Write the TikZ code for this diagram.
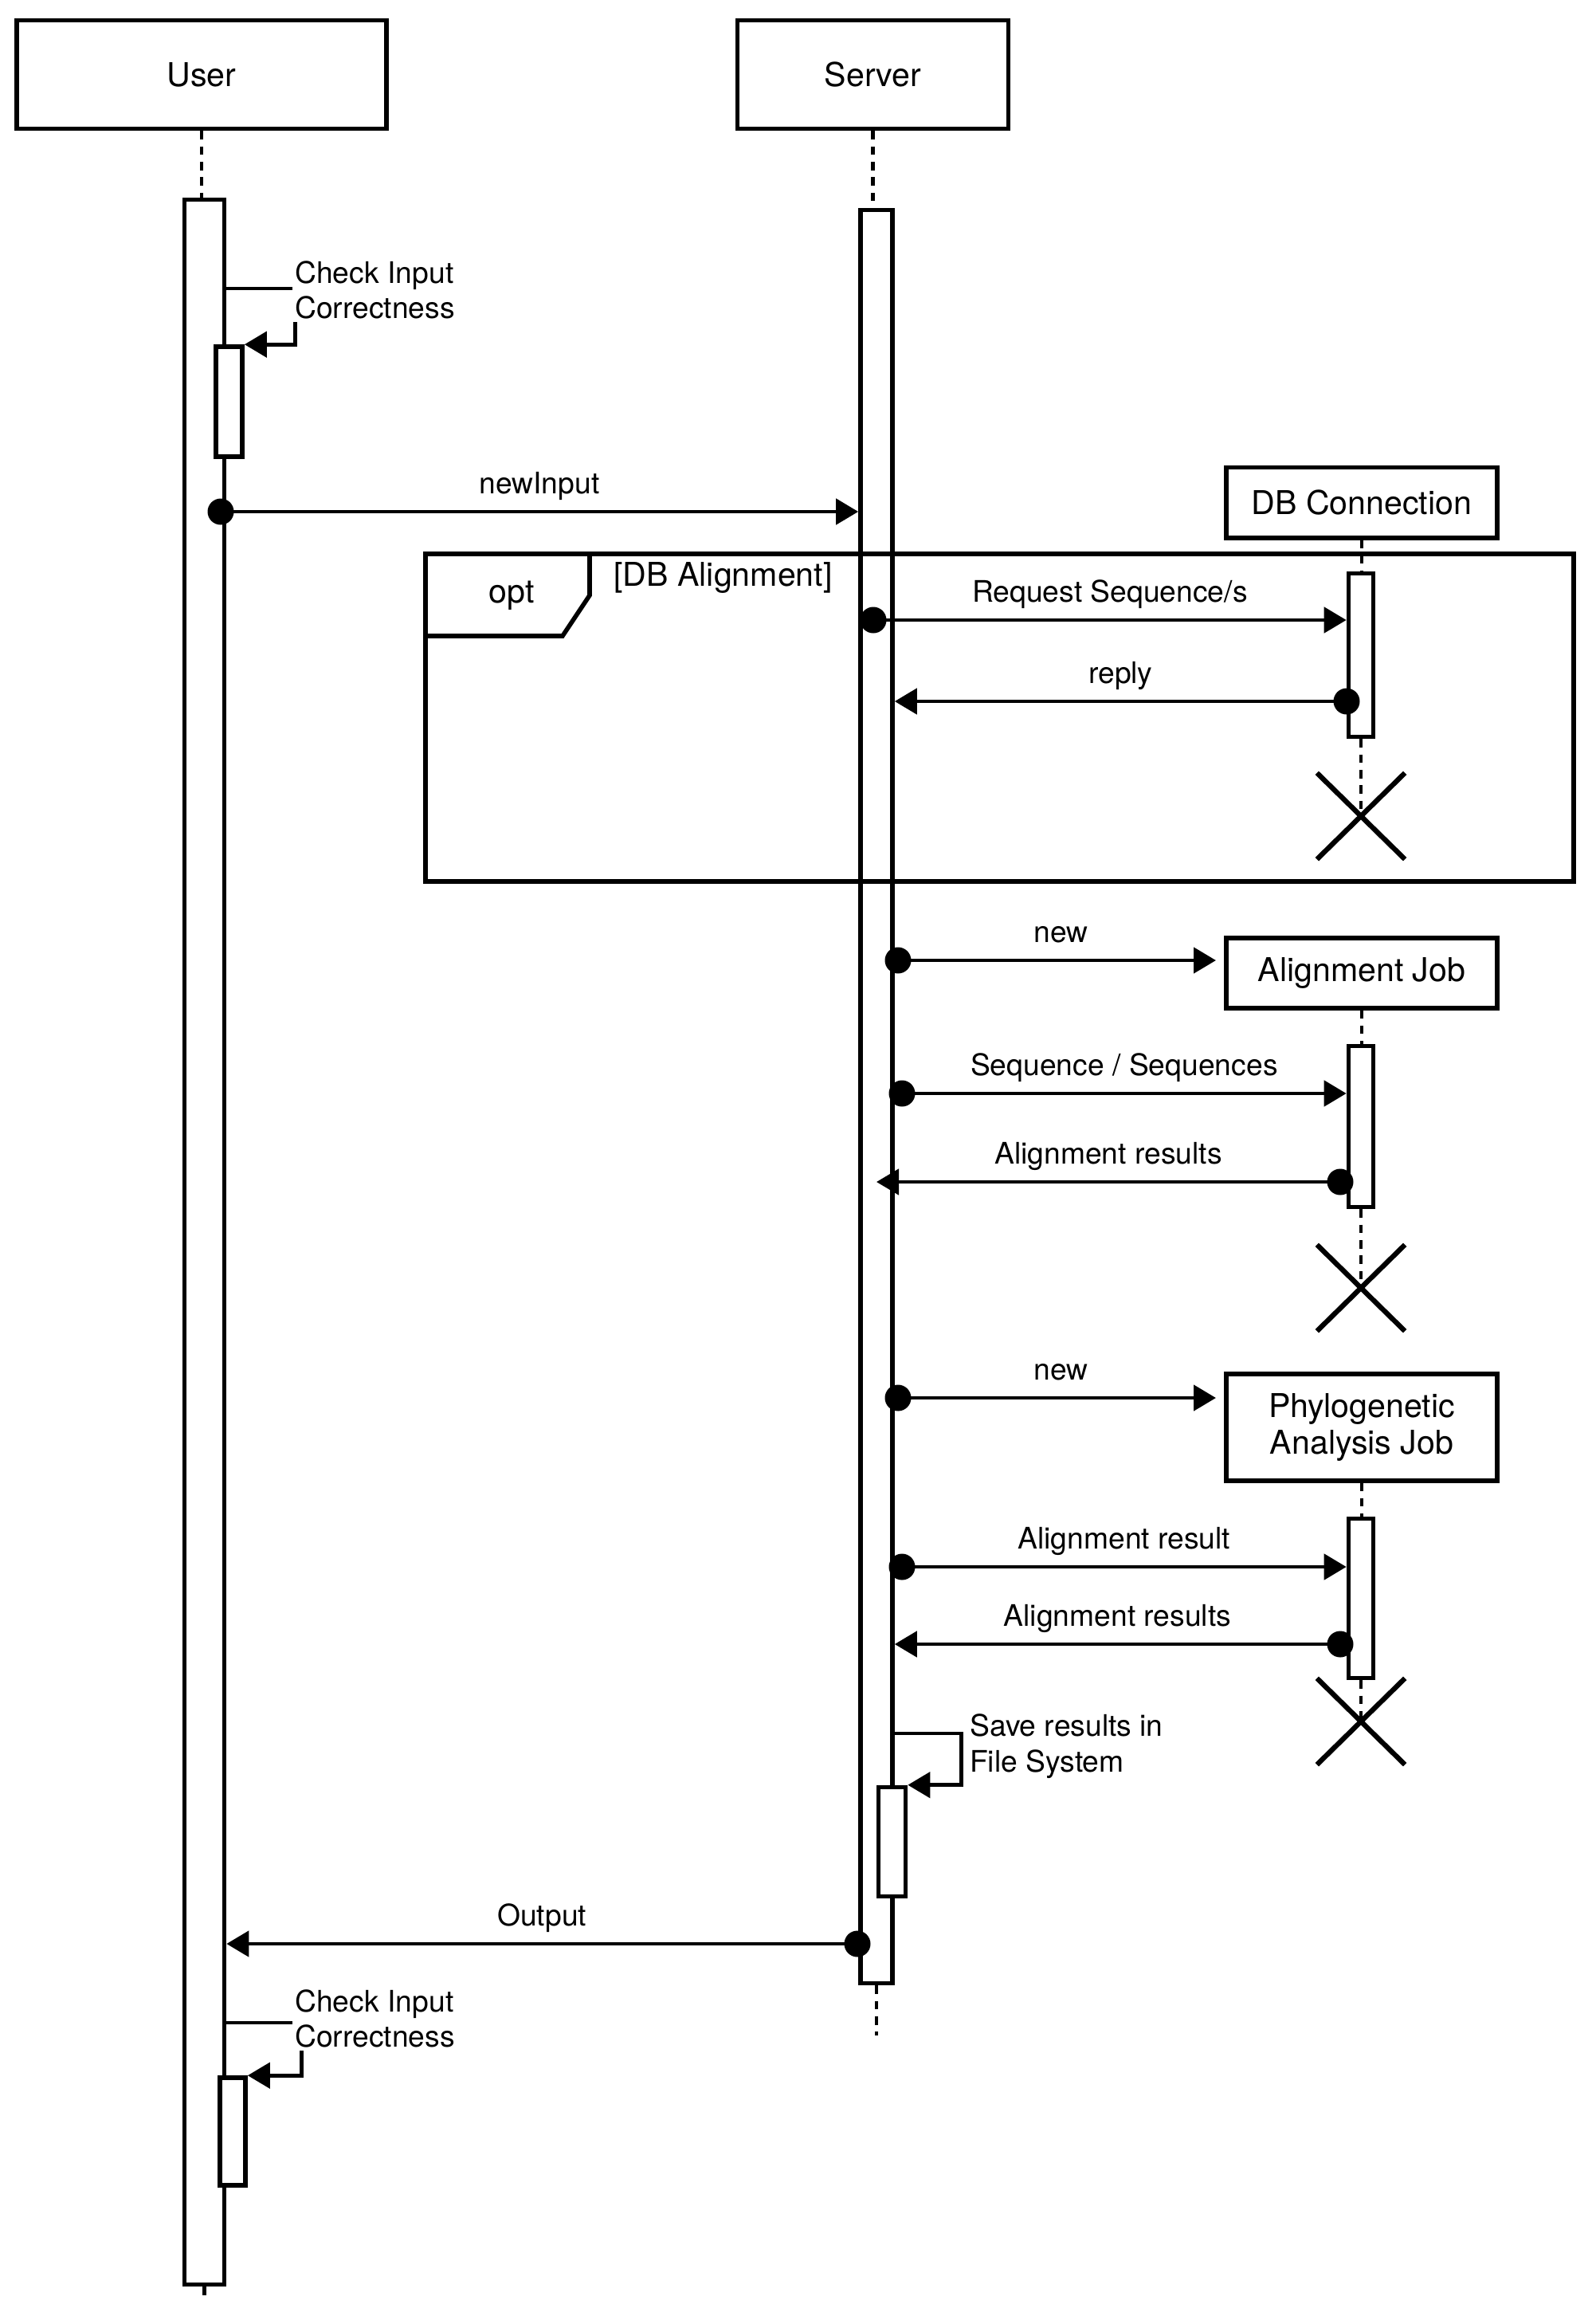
\documentclass[tikz,border=0pt]{standalone}
\usepackage{fontspec}
\setmainfont{TeX Gyre Heros}
\usetikzlibrary{arrows.meta,positioning,shapes.misc}
\newcommand{\bigtxt}{\fontsize{11.7pt}{13.1pt}\selectfont}
\newcommand{\smalltxt}{\fontsize{10.6pt}{12.6pt}\selectfont}

\begin{document}
\begin{tikzpicture}[
    obj/.style={draw, line width=1.7pt, inner sep=0pt, minimum width=3.4cm, font=\bigtxt, align=center},
    act/.style={draw, fill=white, line width=1.6pt, inner sep=0pt, minimum width=0.32cm},
    life/.style={line width=1.4pt, dash pattern=on 3pt off 2.5pt},
    msg/.style={line width=1.35pt, -{Triangle[length=2.8mm,width=3.2mm]}},
    dot/.style={circle, fill, inner sep=0pt, minimum size=3.3mm},
    lbl/.style={font=\smalltxt, inner sep=0pt, text height=0.75em, text depth=0.2em, above=1.3mm},
    note/.style={font=\smalltxt, fill=white, inner sep=1pt, align=left, anchor=west},
    destroy/.style={cross out, draw, line width=1.8pt, inner sep=0pt, minimum width=1.04cm, minimum height=1.02cm},
    frame/.style={line width=1.6pt}
  ]
  \useasboundingbox (0,0) rectangle (20.02,-29.06);

  \node[obj, minimum width=4.64cm, minimum height=1.36cm] (user) at (2.53,-0.935) {User};
  \node[obj, minimum height=1.36cm] (server) at (10.955,-0.935) {Server};
  \node[act, minimum width=0.5cm, minimum height=26.16cm] (ubar) at (2.565,-15.585) {};
  \node[act, minimum width=0.4cm, minimum height=22.25cm] (sbar) at (11.0,-13.76) {};
  \draw[life] (user.south) -- (user.south |- ubar.north);
  \draw[life] (server.south) -- (server.south |- sbar.north);
  \draw[life] (ubar.south) -- ++(0,-0.17);
  \draw[life] (sbar.south) -- ++(0,-0.63);

  \node[act, minimum width=0.33cm, minimum height=1.38cm] (uchk1) at (2.875,-5.04) {};
  \draw[msg] (ubar.east |- 0,-3.62) -- ++(0.86,0) |- (uchk1.north east);
  \node[note] (tchk1) at (3.66,-3.64) {Check Input\\Correctness};

  \node[dot] (d1) at (2.77,-6.42) {};
  \draw[msg] (d1.center) -- node[lbl] (m1) {newInput} (d1 -| sbar.west);

  \node[obj, minimum height=0.88cm] (dbc) at (17.09,-6.305) {DB Connection};
  \node[act, minimum width=0.31cm, minimum height=2.05cm] (dbbar) at (17.08,-8.22) {};
  \node[destroy] (xdb) at (17.08,-10.24) {};
  \draw[life] (dbc.south) -- (dbc.south |- dbbar.north);
  \draw[life] (dbbar.south) -- (xdb.center);

  \draw[frame] (5.34,-6.95) rectangle (19.75,-11.06);
  \draw[frame] (5.34,-7.98) -- (7.06,-7.98) -- (7.40,-7.47) -- (7.40,-6.95);
  \node[font=\bigtxt] (opt) at (6.42,-7.47) {opt};
  \node[font=\bigtxt, anchor=west] (guard) at (7.58,-7.25) {[DB Alignment]};

  \node[dot] (d2) at (10.96,-7.78) {};
  \draw[msg] (d2.center) -- node[lbl] (m2) {Request Sequence/s} (d2 -| dbbar.west);
  \node[dot] (d3) at (16.90,-8.80) {};
  \draw[msg] (d3.center) -- node[lbl] (m3) {reply} (d3 -| sbar.east);

  \node[obj, minimum height=0.88cm] (ajob) at (17.09,-12.205) {Alignment Job};
  \node[act, minimum width=0.31cm, minimum height=2.02cm] (ajbar) at (17.08,-14.135) {};
  \node[destroy] (xaj) at (17.08,-16.16) {};
  \draw[life] (ajob.south) -- (ajob.south |- ajbar.north);
  \draw[life] (ajbar.south) -- (xaj.center);

  \node[dot] (d4) at (11.27,-12.05) {};
  \draw[msg, shorten >=1mm] (d4.center) -- node[lbl] (m4) {new} (d4 -| ajob.west);
  \node[dot] (d5) at (11.32,-13.72) {};
  \draw[msg] (d5.center) -- node[lbl] (m5) {Sequence / Sequences} (d5 -| ajbar.west);
  \node[dot] (d6) at (16.82,-14.83) {};
  \draw[msg] (d6.center) -- node[lbl] (m6) {Alignment results} (d6 -| sbar);

  \node[obj, minimum height=1.34cm] (pjob) at (17.09,-17.905) {Phylogenetic\\Analysis Job};
  \node[act, minimum width=0.31cm, minimum height=2.0cm] (pjbar) at (17.08,-20.055) {};
  \node[destroy] (xpj) at (17.08,-21.60) {};
  \draw[life] (pjob.south) -- (pjob.south |- pjbar.north);
  \draw[life] (pjbar.south) -- (xpj.center);

  \node[dot] (d7) at (11.27,-17.54) {};
  \draw[msg, shorten >=1mm] (d7.center) -- node[lbl] (m7) {new} (d7 -| pjob.west);
  \node[dot] (d8) at (11.32,-19.66) {};
  \draw[msg] (d8.center) -- node[lbl] (m8) {Alignment result} (d8 -| pjbar.west);
  \node[dot] (d9) at (16.82,-20.63) {};
  \draw[msg] (d9.center) -- node[lbl] (m9) {Alignment results} (d9 -| sbar.east);

  \node[act, minimum width=0.34cm, minimum height=1.37cm] (ssave) at (11.195,-23.11) {};
  \draw[msg] (sbar.east |- 0,-21.75) -- ++(0.84,0) |- (ssave.north east);
  \node[note] (tsave) at (12.13,-21.91) {Save results in\\File System};

  \node[dot] (d10) at (10.76,-24.39) {};
  \draw[msg] (d10.center) -- node[lbl] (m10) {Output} (d10 -| ubar.east);

  \node[act, minimum height=1.35cm] (uchk2) at (2.92,-26.745) {};
  \draw[msg] (ubar.east |- 0,-25.38) -- ++(0.94,0) |- (uchk2.north east);
  \node[note] (tchk2) at (3.66,-25.33) {Check Input\\Correctness};
\end{tikzpicture}
\end{document}
